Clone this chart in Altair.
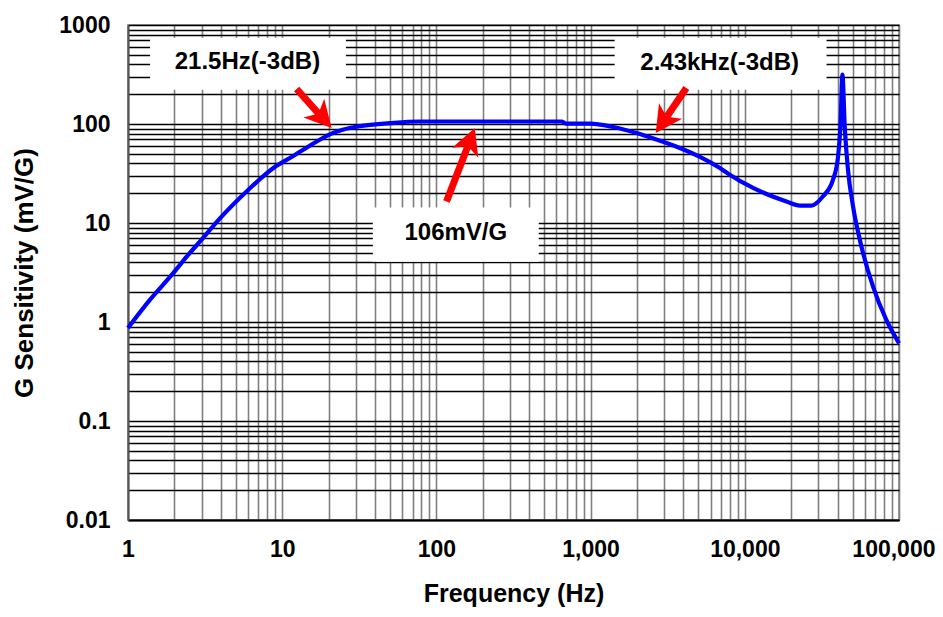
import altair as alt
import pandas as pd
import numpy as np

# ---- curve data ----
freq = [1, 1.39, 1.97, 2.41, 3.0, 3.96, 6.04, 8.77, 11.8, 15.0, 20.9, 25.0, 30.4, 50, 76,
        200, 649, 690, 990, 1400, 1986, 2612, 3790, 5120, 6890, 7800, 11320, 18630, 22700,
        27050, 32150, 37350, 40270, 41700, 42970, 44460, 46690, 50350, 57060, 67790, 82760, 100000]
sens = [0.87, 1.68, 3.13, 4.6, 6.78, 11.2, 21.7, 35.9, 47.5, 60, 80, 88, 94, 102, 106,
        106, 106, 101, 101, 93.3, 81, 70.5, 57.2, 46.5, 35.9, 31.5, 22.6, 16.5, 15.0,
        15.0, 18.6, 27.4, 47.1, 94.6, 315, 94.6, 34.5, 14.7, 5.8, 2.29, 1.05, 0.61]

# ---- axis ticks ----
x_major = [1, 10, 100, 1000, 10000, 100000]
y_major = [0.01, 0.1, 1, 10, 100, 1000]
x_grid = [k * 10 ** e for e in range(0, 5) for k in range(1, 10)] + [100000]
y_grid = [round(k * 10.0 ** e, 4) for e in range(-2, 3) for k in range(1, 10)] + [1000]

# ---- annotations ----
labels = ["21.5Hz(-3dB)", "2.43kHz(-3dB)", "106mV/G"]
text_f = [5.95, 6870, 133.6]
text_v = [425, 415, 7.98]
box_f1 = [1.39, 1432, 38.7]
box_f2 = [25.9, 33900, 461]
box_v1 = [222, 222, 4.07]
box_v2 = [745, 745, 14.3]

tail_f = [12.4, 4178, 116.3]
tail_v = [225.7, 231, 16.5]
tip_f = [20.9, 2642, 177.4]
tip_v = [91.1, 81, 91.1]
head_frac = [0.267, 0.257, 0.178]
shaft_frac = [0.305, 0.294, 0.203]
head_angle = [138, 214, 21]

FONT = "Liberation Sans"

curve = pd.DataFrame({"f": freq, "s": sens})
ann = pd.DataFrame({"label": labels, "tf": text_f, "tv": text_v,
                    "bf1": box_f1, "bf2": box_f2, "bv1": box_v1, "bv2": box_v2})


def interp(a, b, t):
    return list(10 ** (np.log10(a) + np.array(t) * (np.log10(b) - np.log10(a))))


arr = pd.DataFrame({
    "tf": tail_f, "tv": tail_v,
    "sf": interp(tip_f, tail_f, shaft_frac), "sv": interp(tip_v, tail_v, shaft_frac),
    "hf": interp(tip_f, tail_f, head_frac), "hv": interp(tip_v, tail_v, head_frac),
    "ang": head_angle,
})

xscale = alt.Scale(type="log", domain=[1, 100000], nice=False)
yscale = alt.Scale(type="log", domain=[0.01, 1000], nice=False)

x_lab = "indexof(%s, datum.value) >= 0 ? format(datum.value, ',') : ''" % str(x_major)
y_lab = "indexof(%s, datum.value) >= 0 ? format(datum.value, '~g') : ''" % str(y_major)
last_x = "datum.value == %d" % x_major[-1]

xaxis = alt.Axis(values=x_grid, labelExpr=x_lab, title="Frequency (Hz)", grid=True,
                 gridColor="#808080", gridWidth=1.6, gridOpacity=1, ticks=False,
                 labelOverlap=False, labelFlush=False, labelFont=FONT, labelFontSize=23,
                 labelFontWeight="bold", labelColor="black", labelPadding=18,
                 labelAlign={"condition": {"test": last_x, "value": "right"}, "value": "center"},
                 labelOffset={"condition": {"test": last_x, "value": 36}, "value": 0},
                 titleFont=FONT, titleFontSize=25, titleFontWeight="bold", titleColor="black",
                 titlePadding=20, domainColor="black", domainWidth=2)
yaxis = alt.Axis(values=y_grid, labelExpr=y_lab, title="G Sensitivity (mV/G)", grid=True,
                 gridColor="black", gridWidth=1.3, gridOpacity=1, ticks=False,
                 labelOverlap=False, labelFont=FONT, labelFontSize=23,
                 labelFontWeight="bold", labelColor="black", labelPadding=18,
                 titleFont=FONT, titleFontSize=26, titleFontWeight="bold", titleColor="black",
                 titlePadding=21, domainColor="#555555", domainWidth=2)

line = alt.Chart(curve).mark_line(color="#0000FF", strokeWidth=4.2, strokeJoin="round",
                                  interpolate="monotone").encode(
    x=alt.X("f:Q", scale=xscale, axis=xaxis),
    y=alt.Y("s:Q", scale=yscale, axis=yaxis),
)

boxes = alt.Chart(ann).mark_rect(fill="white").encode(
    x=alt.X("bf1:Q", scale=xscale, axis=xaxis), x2="bf2:Q",
    y=alt.Y("bv1:Q", scale=yscale, axis=yaxis), y2="bv2:Q",
)

texts = alt.Chart(ann).mark_text(font=FONT, fontSize=24, fontWeight="bold", color="black",
                                 align="center", baseline="middle").encode(
    x=alt.X("tf:Q", scale=xscale, axis=xaxis),
    y=alt.Y("tv:Q", scale=yscale, axis=yaxis),
    text="label:N",
)

shafts = alt.Chart(arr).mark_rule(color="#FF0000", strokeWidth=7).encode(
    x=alt.X("tf:Q", scale=xscale, axis=xaxis), x2="sf:Q",
    y=alt.Y("tv:Q", scale=yscale, axis=yaxis), y2="sv:Q",
)

heads = alt.Chart(arr).mark_point(
    shape="M0,-1L1,0.9L0,0.4L-1,0.9Z", filled=True, fill="#FF0000", color="#FF0000",
    opacity=1, size=784, strokeWidth=0).encode(
    x=alt.X("hf:Q", scale=xscale, axis=xaxis),
    y=alt.Y("hv:Q", scale=yscale, axis=yaxis),
    angle=alt.Angle("ang:Q", scale=None),
)

chart = alt.layer(line, boxes, shafts, heads, texts).properties(
    width=771, height=495,
    autosize=alt.AutoSizeParams(type="none"),
    padding={"left": 120, "top": 17, "right": 36, "bottom": 89},
    background="white",
).configure_view(stroke="#808080", strokeWidth=1.5)

chart.save("out.html", embed_options={"renderer": "svg", "actions": False})
